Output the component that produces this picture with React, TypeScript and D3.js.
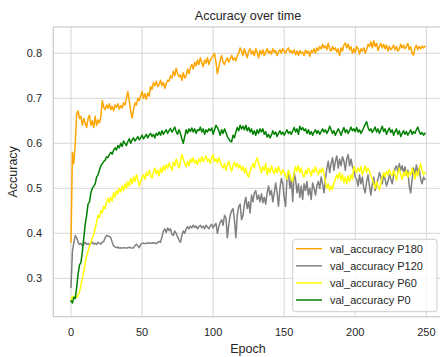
import React, { useEffect, useRef } from 'react';
import * as d3 from 'd3';

// val_accuracy per epoch (0..249)
const p180 = [
  0.38, 0.58, 0.555, 0.60, 0.665, 0.672, 0.655, 0.66, 0.64, 0.655,
  0.645, 0.635, 0.655, 0.662, 0.64, 0.65, 0.635, 0.66, 0.64, 0.652,
  0.645, 0.66, 0.695, 0.68, 0.675, 0.685, 0.678, 0.688, 0.675, 0.682,
  0.672, 0.685, 0.68, 0.688, 0.676, 0.684, 0.678, 0.69, 0.685, 0.70,
  0.715, 0.695, 0.672, 0.656, 0.675, 0.69, 0.685, 0.70, 0.695, 0.705,
  0.715, 0.70, 0.71, 0.698, 0.712, 0.705, 0.726, 0.72, 0.735, 0.728,
  0.738, 0.726, 0.73, 0.74, 0.728, 0.735, 0.722, 0.733, 0.74, 0.738,
  0.75, 0.745, 0.76, 0.75, 0.767, 0.755, 0.748, 0.752, 0.74, 0.757,
  0.745, 0.75, 0.765, 0.755, 0.768, 0.775, 0.765, 0.78, 0.772, 0.785,
  0.775, 0.79, 0.78, 0.77, 0.785, 0.778, 0.79, 0.775, 0.785, 0.79,
  0.795, 0.80, 0.78, 0.755, 0.77, 0.785, 0.795, 0.78, 0.775, 0.785,
  0.79, 0.78, 0.788, 0.795, 0.785, 0.79, 0.783, 0.795, 0.80, 0.812,
  0.805, 0.795, 0.81, 0.80, 0.79, 0.805, 0.81, 0.798, 0.805, 0.795,
  0.81, 0.802, 0.79, 0.806, 0.798, 0.808, 0.795, 0.803, 0.81, 0.80,
  0.805, 0.798, 0.81, 0.802, 0.806, 0.795, 0.803, 0.808, 0.80, 0.81,
  0.805, 0.80, 0.808, 0.812, 0.802, 0.806, 0.80, 0.808, 0.797, 0.805,
  0.795, 0.806, 0.80, 0.803, 0.795, 0.807, 0.80, 0.805, 0.793, 0.806,
  0.802, 0.81, 0.80, 0.812, 0.806, 0.815, 0.81, 0.82, 0.812, 0.817,
  0.808, 0.822, 0.81, 0.805, 0.815, 0.808, 0.812, 0.803, 0.81, 0.795,
  0.812, 0.805, 0.818, 0.823, 0.812, 0.82, 0.808, 0.815, 0.80, 0.81,
  0.802, 0.815, 0.81, 0.798, 0.81, 0.805, 0.812, 0.80, 0.808, 0.82,
  0.815, 0.825, 0.812, 0.828, 0.815, 0.822, 0.806, 0.815, 0.822, 0.812,
  0.82, 0.81, 0.818, 0.805, 0.815, 0.808, 0.812, 0.818, 0.808, 0.815,
  0.805, 0.81, 0.82, 0.812, 0.818, 0.81, 0.815, 0.822, 0.808, 0.815,
  0.80, 0.796, 0.812, 0.818, 0.808, 0.815, 0.81, 0.816, 0.812, 0.815,
];

const p120 = [
  0.28, 0.36, 0.38, 0.395, 0.39, 0.38, 0.375, 0.378, 0.372, 0.376,
  0.38, 0.375, 0.378, 0.374, 0.377, 0.38, 0.376, 0.378, 0.375, 0.38,
  0.378, 0.376, 0.38, 0.382, 0.39, 0.395, 0.394, 0.393, 0.39, 0.38,
  0.372, 0.37, 0.368, 0.369, 0.367, 0.368, 0.367, 0.368, 0.368, 0.367,
  0.368, 0.369, 0.368, 0.367, 0.368, 0.372, 0.376, 0.372, 0.368, 0.375,
  0.378, 0.378, 0.377, 0.378, 0.378, 0.379, 0.378, 0.378, 0.379, 0.378,
  0.377, 0.38, 0.382, 0.38, 0.392, 0.405, 0.41, 0.402, 0.412, 0.406,
  0.41, 0.398, 0.395, 0.405, 0.40, 0.392, 0.385, 0.38, 0.395, 0.405,
  0.40, 0.41, 0.415, 0.41, 0.416, 0.412, 0.418, 0.413, 0.416, 0.41,
  0.415, 0.418, 0.412, 0.416, 0.41, 0.418, 0.414, 0.41, 0.416, 0.42,
  0.412, 0.418, 0.422, 0.40, 0.415, 0.425, 0.43, 0.418, 0.44, 0.435,
  0.39, 0.42, 0.44, 0.45, 0.455, 0.43, 0.39, 0.44, 0.46, 0.465,
  0.43, 0.44, 0.465, 0.48, 0.455, 0.47, 0.445, 0.485, 0.47, 0.49,
  0.495, 0.475, 0.485, 0.47, 0.488, 0.468, 0.48, 0.465, 0.49, 0.505,
  0.485, 0.495, 0.47, 0.49, 0.512, 0.49, 0.46, 0.50, 0.522, 0.51,
  0.48, 0.46, 0.525, 0.535, 0.50, 0.52, 0.47, 0.535, 0.52, 0.49,
  0.51, 0.48, 0.505, 0.475, 0.51, 0.495, 0.515, 0.485, 0.50, 0.475,
  0.512, 0.50, 0.485, 0.505, 0.515, 0.50, 0.525, 0.51, 0.49, 0.52,
  0.545, 0.56, 0.535, 0.555, 0.568, 0.54, 0.56, 0.572, 0.545, 0.565,
  0.55, 0.57, 0.56, 0.54, 0.565, 0.575, 0.55, 0.565, 0.548, 0.54,
  0.525, 0.52, 0.505, 0.53, 0.51, 0.525, 0.50, 0.49, 0.515, 0.53,
  0.505, 0.485, 0.51, 0.525, 0.495, 0.51, 0.52, 0.535, 0.525, 0.51,
  0.53, 0.52, 0.505, 0.515, 0.53, 0.52, 0.51, 0.528, 0.545, 0.55,
  0.535, 0.555, 0.54, 0.55, 0.535, 0.548, 0.53, 0.54, 0.505, 0.49,
  0.52, 0.545, 0.53, 0.552, 0.535, 0.545, 0.52, 0.51, 0.525, 0.52,
];

const p60 = [
  0.25, 0.26, 0.255, 0.262, 0.258, 0.262, 0.27, 0.285, 0.30, 0.315,
  0.335, 0.35, 0.36, 0.372, 0.38, 0.39, 0.398, 0.41, 0.425, 0.44,
  0.435, 0.45, 0.445, 0.46, 0.455, 0.47, 0.478, 0.468, 0.48, 0.472,
  0.49, 0.48, 0.495, 0.488, 0.50, 0.492, 0.505, 0.495, 0.51, 0.50,
  0.515, 0.505, 0.522, 0.51, 0.525, 0.515, 0.53, 0.52, 0.505, 0.515,
  0.525, 0.53, 0.52, 0.535, 0.528, 0.54, 0.53, 0.522, 0.535, 0.545,
  0.532, 0.54, 0.528, 0.545, 0.535, 0.55, 0.54, 0.552, 0.545, 0.556,
  0.548, 0.54, 0.558, 0.55, 0.565, 0.555, 0.545, 0.56, 0.575, 0.565,
  0.555, 0.548, 0.56, 0.55, 0.565, 0.558, 0.568, 0.556, 0.562, 0.552,
  0.565, 0.558, 0.57, 0.56, 0.566, 0.572, 0.56, 0.565, 0.555, 0.568,
  0.575, 0.56, 0.565, 0.556, 0.568, 0.56, 0.55, 0.545, 0.555, 0.54,
  0.552, 0.56, 0.548, 0.538, 0.55, 0.558, 0.548, 0.555, 0.545, 0.552,
  0.54, 0.548, 0.535, 0.545, 0.53, 0.525, 0.538, 0.548, 0.555, 0.545,
  0.56, 0.568, 0.555, 0.545, 0.535, 0.548, 0.54, 0.555, 0.53, 0.545,
  0.535, 0.55, 0.54, 0.532, 0.545, 0.535, 0.548, 0.538, 0.53, 0.542,
  0.535, 0.528, 0.52, 0.54, 0.53, 0.52, 0.515, 0.535, 0.548, 0.538,
  0.55, 0.535, 0.545, 0.53, 0.525, 0.54, 0.532, 0.545, 0.538, 0.528,
  0.542, 0.535, 0.548, 0.538, 0.53, 0.542, 0.535, 0.545, 0.532, 0.515,
  0.50, 0.51, 0.495, 0.505, 0.498, 0.512, 0.52, 0.53, 0.522, 0.535,
  0.518, 0.53, 0.512, 0.525, 0.51, 0.528, 0.515, 0.53, 0.52, 0.548,
  0.54, 0.535, 0.545, 0.538, 0.548, 0.53, 0.54, 0.55, 0.535, 0.545,
  0.538, 0.528, 0.52, 0.51, 0.50, 0.515, 0.505, 0.496, 0.51, 0.525,
  0.535, 0.525, 0.538, 0.53, 0.542, 0.532, 0.528, 0.54, 0.53, 0.518,
  0.535, 0.545, 0.53, 0.52, 0.535, 0.528, 0.54, 0.525, 0.535, 0.53,
  0.545, 0.535, 0.52, 0.538, 0.528, 0.545, 0.555, 0.54, 0.53, 0.535,
];

const p0 = [
  0.25, 0.245, 0.258, 0.255, 0.28, 0.31, 0.33, 0.335, 0.36, 0.39,
  0.42, 0.44, 0.465, 0.47, 0.49, 0.50, 0.505, 0.51, 0.525, 0.53,
  0.54, 0.55, 0.555, 0.56, 0.562, 0.57, 0.568, 0.575, 0.58, 0.576,
  0.585, 0.59, 0.585, 0.595, 0.59, 0.60, 0.593, 0.605, 0.60, 0.595,
  0.604, 0.61, 0.60, 0.608, 0.612, 0.605, 0.61, 0.615, 0.608, 0.612,
  0.618, 0.61, 0.615, 0.62, 0.612, 0.618, 0.622, 0.615, 0.62, 0.612,
  0.622, 0.618, 0.625, 0.618, 0.628, 0.62, 0.626, 0.63, 0.622, 0.628,
  0.633, 0.625, 0.63, 0.636, 0.626, 0.62, 0.63, 0.622, 0.61, 0.60,
  0.615, 0.63, 0.622, 0.632, 0.626, 0.634, 0.625, 0.632, 0.622, 0.63,
  0.628, 0.636, 0.625, 0.632, 0.62, 0.63, 0.625, 0.632, 0.628, 0.634,
  0.62, 0.63, 0.64, 0.635, 0.628, 0.618, 0.63, 0.622, 0.632, 0.624,
  0.615, 0.61, 0.605, 0.603, 0.618, 0.612, 0.625, 0.635, 0.628, 0.64,
  0.632, 0.638, 0.63, 0.64, 0.628, 0.635, 0.625, 0.632, 0.62, 0.628,
  0.618, 0.63, 0.622, 0.632, 0.625, 0.632, 0.62, 0.626, 0.614, 0.62,
  0.612, 0.618, 0.628, 0.62, 0.625, 0.615, 0.622, 0.628, 0.62, 0.625,
  0.618, 0.624, 0.63, 0.622, 0.626, 0.62, 0.628, 0.635, 0.625, 0.632,
  0.62, 0.638, 0.63, 0.635, 0.628, 0.632, 0.622, 0.63, 0.62, 0.626,
  0.618, 0.625, 0.63, 0.622, 0.628, 0.62, 0.626, 0.632, 0.625, 0.63,
  0.622, 0.628, 0.638, 0.63, 0.622, 0.628, 0.618, 0.625, 0.632, 0.626,
  0.618, 0.628, 0.635, 0.624, 0.63, 0.622, 0.628, 0.636, 0.628, 0.632,
  0.626, 0.635, 0.625, 0.63, 0.622, 0.628, 0.635, 0.642, 0.648, 0.635,
  0.628, 0.632, 0.624, 0.63, 0.636, 0.625, 0.632, 0.622, 0.63, 0.638,
  0.626, 0.632, 0.62, 0.628, 0.634, 0.624, 0.63, 0.618, 0.626, 0.632,
  0.62, 0.628, 0.615, 0.622, 0.628, 0.62, 0.626, 0.618, 0.624, 0.63,
  0.62, 0.626, 0.622, 0.63, 0.636, 0.626, 0.62, 0.624, 0.618, 0.622,
];

const seriesNames = ['val_accuracy P180', 'val_accuracy P120', 'val_accuracy P60', 'val_accuracy P0'];
const seriesValues = [p180, p120, p60, p0];
const seriesColors = ['#ffa500', '#808080', '#ffff00', '#008000'];
const xTicks = [0, 50, 100, 150, 200, 250];
const yTicks = [0.3, 0.4, 0.5, 0.6, 0.7, 0.8];

const FONT = '"Liberation Sans", Arial, sans-serif';

const AccuracyChart: React.FC<{ width?: number; height?: number }> = ({
  width = 440,
  height = 357,
}) => {
  const svgRef = useRef<SVGSVGElement>(null);

  useEffect(() => {
    if (!svgRef.current) return;
    d3.select(svgRef.current).selectAll('*').remove();

    // axes box (right edge runs past the picture, as in the reference)
    const left = 53.3;
    const right = 442.6;
    const top = 27;
    const bottom = 316.7;

    const svg = d3.select(svgRef.current)
      .attr('width', width)
      .attr('height', height);

    const x = d3.scaleLinear().domain([-12.45, 261.45]).range([left, right]);
    const y = d3.scaleLinear().domain([0.2147, 0.8584]).range([bottom, top]);

    svg.append('rect')
      .attr('width', width)
      .attr('height', height)
      .attr('fill', '#ffffff');

    // grid
    const grid = svg.append('g').attr('stroke', '#d5d5d5').attr('stroke-width', 1);
    xTicks.forEach(t => {
      grid.append('line')
        .attr('x1', x(t)).attr('x2', x(t))
        .attr('y1', top).attr('y2', bottom);
    });
    yTicks.forEach(t => {
      grid.append('line')
        .attr('x1', left).attr('x2', right)
        .attr('y1', y(t)).attr('y2', y(t));
    });

    // spines
    svg.append('rect')
      .attr('x', left).attr('y', top)
      .attr('width', right - left).attr('height', bottom - top)
      .attr('fill', 'none')
      .attr('stroke', '#cccccc')
      .attr('stroke-width', 1.25);

    // lines
    const line = d3.line<number>()
      .x((_, i) => x(i))
      .y(d => y(d));

    seriesValues.forEach((vals, i) => {
      svg.append('path')
        .datum(vals)
        .attr('d', line)
        .attr('fill', 'none')
        .attr('stroke', seriesColors[i])
        .attr('stroke-width', 1.5)
        .attr('stroke-linejoin', 'round')
        .attr('stroke-linecap', 'square');
    });

    // tick labels
    xTicks.forEach(t => {
      svg.append('text')
        .attr('x', x(t))
        .attr('y', 335.5)
        .attr('text-anchor', 'middle')
        .style('font-family', FONT)
        .style('font-size', '11px')
        .style('fill', '#262626')
        .text(t);
    });
    yTicks.forEach(t => {
      svg.append('text')
        .attr('x', 42)
        .attr('y', y(t))
        .attr('dy', '0.35em')
        .attr('text-anchor', 'end')
        .style('font-family', FONT)
        .style('font-size', '11px')
        .style('fill', '#262626')
        .text(t.toFixed(1));
    });

    // axis labels and title
    svg.append('text')
      .attr('x', (left + right) / 2)
      .attr('y', 352.5)
      .attr('text-anchor', 'middle')
      .style('font-family', FONT)
      .style('font-size', '12.5px')
      .style('fill', '#262626')
      .text('Epoch');

    svg.append('text')
      .attr('transform', `translate(${16.5}, ${(top + bottom) / 2}) rotate(-90)`)
      .attr('text-anchor', 'middle')
      .style('font-family', FONT)
      .style('font-size', '12.5px')
      .style('fill', '#262626')
      .text('Accuracy');

    svg.append('text')
      .attr('x', (left + right) / 2)
      .attr('y', 19.5)
      .attr('text-anchor', 'middle')
      .style('font-family', FONT)
      .style('font-size', '12.5px')
      .style('fill', '#262626')
      .text('Accuracy over time');

    // legend
    const legend = svg.append('g');
    legend.append('rect')
      .attr('x', 292.7)
      .attr('y', 239.3)
      .attr('width', 144.3)
      .attr('height', 72.4)
      .attr('rx', 3)
      .attr('fill', '#ffffff')
      .attr('fill-opacity', 0.8)
      .attr('stroke', '#cccccc')
      .attr('stroke-width', 1);

    seriesNames.forEach((name, i) => {
      const cy = 248.7 + i * 17.1;
      legend.append('line')
        .attr('x1', 296).attr('x2', 322)
        .attr('y1', cy).attr('y2', cy)
        .attr('stroke', seriesColors[i])
        .attr('stroke-width', 1.5);
      legend.append('text')
        .attr('x', 330)
        .attr('y', cy)
        .attr('dy', '0.35em')
        .style('font-family', FONT)
        .style('font-size', '11px')
        .style('fill', '#262626')
        .text(name);
    });
  }, [width, height]);

  return (
    <div style={{ position: 'absolute', left: 0, top: 0 }}>
      <svg ref={svgRef} style={{ display: 'block' }} />
    </div>
  );
};

export default function App() {
  return <AccuracyChart />;
}
